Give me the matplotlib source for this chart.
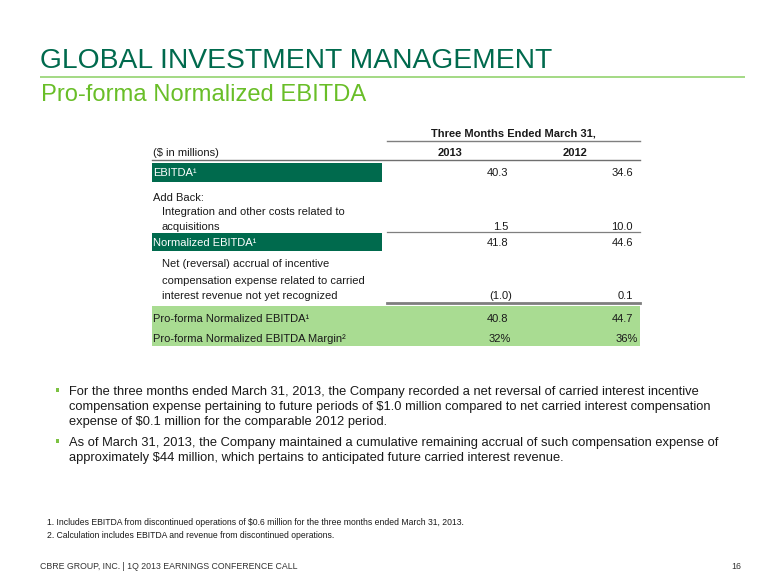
import matplotlib
matplotlib.use("Agg")
import matplotlib.pyplot as plt
from matplotlib.patches import Rectangle
from matplotlib import font_manager

# ---------------- data ----------------
title = "GLOBAL INVESTMENT MANAGEMENT"
subtitle = "Pro-forma Normalized EBITDA"
period_header = "Three Months Ended March 31,"
unit_label = "($ in millions)"
years = ["2013", "2012"]

row_labels = [
    ["EBITDA¹"],
    ["Add Back:"],
    ["Integration and other costs related to", "acquisitions"],
    ["Normalized EBITDA¹"],
    ["Net (reversal) accrual of incentive",
     "compensation expense related to carried",
     "interest revenue not yet recognized"],
    ["Pro-forma Normalized EBITDA¹"],
    ["Pro-forma Normalized EBITDA Margin²"],
]
vals_2013 = [40.3, None, 1.5, 41.8, -1.0, 40.8, 32]
vals_2012 = [34.6, None, 10.0, 44.6, 0.1, 44.7, 36]
row_kind = ["dark", "plain", "plain", "dark", "plain", "light", "light_pct"]

bullets = [
    ["For the three months ended March 31, 2013, the Company recorded a net reversal of carried interest incentive",
     "compensation expense pertaining to future periods of $1.0 million compared to net carried interest compensation",
     "expense of $0.1 million for the comparable 2012 period."],
    ["As of March 31, 2013, the Company maintained a cumulative remaining accrual of such compensation expense of",
     "approximately $44 million, which pertains to anticipated future carried interest revenue."],
]
footnotes = [
    "1. Includes EBITDA from discontinued operations of $0.6 million for the three months ended March 31, 2013.",
    "2. Calculation includes EBITDA and revenue from discontinued operations.",
]
footer = "CBRE GROUP, INC. | 1Q 2013 EARNINGS CONFERENCE CALL"
page_no = "16"

# ---------------- styles ----------------
DARK = "#006A4D"
LIGHT_TXT = "#69BE28"
RULE = "#93D36F"
BAND = "#A9DC92"
TXT = "#1a1a1a"

names = {f.name for f in font_manager.fontManager.ttflist}
REG = "Liberation Sans" if "Liberation Sans" in names else "DejaVu Sans"

fig = plt.figure(figsize=(7.8, 5.85), dpi=100)
ax = fig.add_axes([0, 0, 1, 1])
ax.set_xlim(0, 780)
ax.set_ylim(585, 0)
ax.axis("off")

# title block
ax.text(40, 68, title, family=REG, fontsize=20.3, color=DARK, va="baseline")
ax.plot([40, 745], [76.5, 76.5], color=RULE, lw=1.2, solid_capstyle="butt")
ax.text(41, 101, subtitle, family=REG, fontsize=17.1, color=LIGHT_TXT, va="baseline")

# ---------------- table ----------------
FS = 8
x_lab = 153
x_ind = 162
x_c13, x_c12 = 508, 633
hdr13, hdr12 = 450, 575

ax.text(513, 137, period_header, family=REG, fontsize=FS, fontweight="bold",
        ha="center", va="baseline", color=TXT)
ax.plot([387, 640], [141, 141], color="#7f7f7f", lw=1.0)
ax.text(x_lab, 156, unit_label, family=REG, fontsize=FS, va="baseline", color=TXT)
ax.text(hdr13, 156, years[0], family=REG, fontsize=FS, fontweight="bold",
        ha="center", va="baseline", color=TXT)
ax.text(hdr12, 156, years[1], family=REG, fontsize=FS, fontweight="bold",
        ha="center", va="baseline", color=TXT)
ax.plot([152, 640], [159.5, 159.5], color="#6f6f6f", lw=1.0)

# background shapes
ax.add_patch(Rectangle((152, 163), 230, 19, color=DARK, lw=0))
ax.add_patch(Rectangle((152, 233), 230, 18, color=DARK, lw=0))
ax.add_patch(Rectangle((152, 306), 488, 40, color=BAND, lw=0))
ax.plot([387, 640], [231.5, 231.5], color="#7f7f7f", lw=0.9)
ax.plot([387, 640], [303, 303], color="#7f7f7f", lw=2.0)

row_baselines = [
    [176],
    [201],
    [215, 230],
    [246],
    [267, 284, 299],
    [322],
    [342],
]


def fmt(v, pct):
    if v is None:
        return ""
    if pct:
        return f"{v:.0f}%"
    if v < 0:
        return f"({abs(v):.1f})"
    return f"{v:.1f}"


for labels, ys, v13, v12, kind in zip(row_labels, row_baselines, vals_2013, vals_2012, row_kind):
    color = "white" if kind == "dark" else TXT
    indent = x_ind if kind == "plain" and labels[0] != "Add Back:" else x_lab
    for lab, y in zip(labels, ys):
        ax.text(indent, y, lab, family=REG, fontsize=FS, color=color, va="baseline")
    pct = kind == "light_pct"
    yv = ys[-1]
    for v, xr, dx in ((v13, x_c13, 3 if pct else 0), (v12, x_c12, 5 if pct else 0)):
        s = fmt(v, pct)
        shift = 4 if (v is not None and v < 0) else dx
        ax.text(xr + shift, yv, s, family=REG, fontsize=FS, color=TXT,
                ha="right", va="baseline")

# ---------------- bullets ----------------
BFS = 9.3
line_y = [[395, 410, 425], [446, 461]]
for lines, ys in zip(bullets, line_y):
    ax.add_patch(Rectangle((55.5, ys[0] - 7), 3.5, 3.5, color="#7CC242", lw=0))
    for ln, y in zip(lines, ys):
        ax.text(69, y, ln, family=REG, fontsize=BFS, color=TXT, va="baseline")

# footnotes & footer
for fn, y in zip(footnotes, [525, 538]):
    ax.text(47, y, fn, family=REG, fontsize=6.25, color=TXT, va="baseline")
ax.text(40, 569, footer, family=REG, fontsize=6.3, color="#333333", va="baseline")
ax.text(741, 569, page_no, family=REG, fontsize=6.3, color="#333333",
        ha="right", va="baseline")

fig.savefig("out.png", dpi=100)
